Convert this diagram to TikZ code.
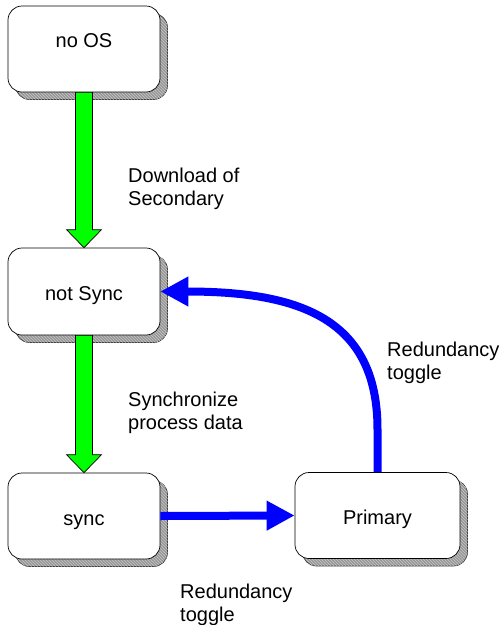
\documentclass[tikz,border=0pt]{standalone}
\usepackage{fontspec}
\setmainfont{Liberation Sans}
\usetikzlibrary{arrows.meta,calc,patterns,shadows}
\definecolor{arrgreen}{RGB}{0,255,0}
\definecolor{arrblue}{RGB}{0,0,255}
\definecolor{shadegray}{RGB}{150,150,150}
\definecolor{hatchgray}{RGB}{200,200,200}
\definecolor{shadeline}{RGB}{60,60,60}
\begin{document}
\begin{tikzpicture}[x=1pt,y=-1pt,
  state/.style={draw=black, line width=0.7pt, fill=white, rounded corners=14pt,
    minimum width=152pt, minimum height=86pt, inner sep=0pt,
    text height=18pt, text depth=0pt,
    font=\fontsize{20}{23}\selectfont,
    general shadow={shadow xshift=7.5pt, shadow yshift=-7.5pt, fill=shadegray,
      draw=shadeline, line width=0.7pt,
      postaction={pattern=north west lines, pattern color=hatchgray}}},
  lbl/.style={anchor=north west, inner sep=0pt, align=left,
    font=\fontsize{20}{23}\selectfont},
  greenarr/.style={draw=black, line width=0.7pt, fill=arrgreen, line join=miter},
  bluearr/.style={draw=arrblue, line width=8pt,
    -{Triangle[length=28pt, width=28pt]}}
]
\useasboundingbox (0,0) rectangle (502,625);

\node[state, text height=14.5pt, text depth=18.5pt] (noos) at (84,49) {no OS};
\node[state, minimum height=87pt] (notsync) at (84,291.5) {not Sync};
\node[state] (sync) at (84,516) {sync};
\node[state, minimum width=165pt] (primary) at (377.5,515.5) {Primary};

% green arrows
\draw[greenarr] ($(noos.south)+(-8.5,0)$) -- ($(notsync.north)+(-8.5,-18)$)
  -- ($(notsync.north)+(-17.5,-18)$) -- (notsync.north)
  -- ($(notsync.north)+(17.5,-18)$) -- ($(notsync.north)+(8.5,-18)$)
  -- ($(noos.south)+(8.5,0)$) -- cycle;
\draw[greenarr] ($(notsync.south)+(-8.5,0)$) -- ($(sync.north)+(-8.5,-18)$)
  -- ($(sync.north)+(-17.5,-18)$) -- (sync.north)
  -- ($(sync.north)+(17.5,-18)$) -- ($(sync.north)+(8.5,-18)$)
  -- ($(notsync.south)+(8.5,0)$) -- cycle;

% blue arrows
\draw[bluearr] (sync.east) -- (primary.west);
\draw[bluearr] (primary.north) -- ++(0,-43)
  .. controls +(0,-110) and +(140,0) .. (notsync.east);

% labels
\node[lbl] (l1) at (128,168) {Download of\\Secondary};
\node[lbl] (l2) at (128,392) {Synchronize\\process data};
\node[lbl] (l3) at (387,342) {Redundancy\\toggle};
\node[lbl] (l4) at (180,584) {Redundancy\\toggle};
\end{tikzpicture}
\end{document}
